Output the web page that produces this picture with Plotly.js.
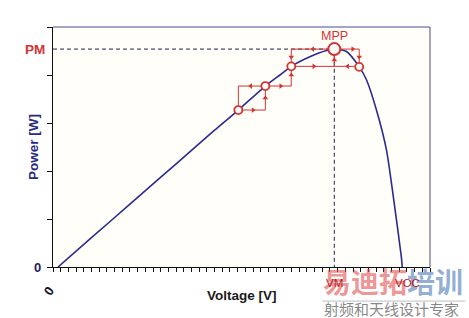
<!DOCTYPE html>
<html>
<head>
<meta charset="utf-8">
<script src="https://cdn.plot.ly/plotly-3.0.1.min.js"></script>
<style>
  html, body { margin: 0; padding: 0; background: #ffffff; }
  #chart { width: 469px; height: 318px; }
</style>
</head>
<body>
<div id="chart"></div>
<script>
// ---- P-V curve of the PV module (arbitrary units) ----
const voltage = [0.65, 5, 10, 13.9, 18, 21, 24.09, 27.6, 29.5, 30.97, 33.38, 35.55, 36.56, 38.14, 39.8, 40.74, 42.04, 43.34, 44.29, 45.29, 45.39];
const power   = [0, 0.61, 1.31, 1.855, 2.43, 2.85, 3.27, 3.77, 4.0, 4.18, 4.38, 4.51, 4.54, 4.49, 4.17, 3.9, 3.27, 2.44, 1.40, 0.19, 0];

// Maximum power point and open-circuit voltage
const VM = 36.56;
const PM = 4.54;
const VOC = 45.39;

// Perturb & observe operating points
const opV = [24.09, 27.6, 30.97, 39.8];
const opP = [3.27, 3.77, 4.18, 4.17];

// P&O path segments (null separates segments)
const pathV = [24.09, 27.6, 27.6, null, 24.09, 24.09, 27.6, null, 27.6, 30.97, 30.97, null, 30.97, 39.8, null, 30.97, 30.97, 39.8, 39.8, null, 36.56, 36.56];
const pathP = [3.27, 3.27, 3.77, null, 3.27, 3.77, 3.77, null, 3.77, 3.77, 4.18, null, 4.18, 4.18, null, 4.18, 4.54, 4.54, 4.17, null, 4.18, 4.54];

// Arrow heads along the path
const arrowRightV = [26.0, 29.6, 33.9, 38.96];
const arrowRightP = [3.27, 3.77, 4.18, 4.54];
const arrowLeftV  = [25.7, 33.77, 38.3];
const arrowLeftP  = [3.77, 4.54, 4.18];
const arrowUpV    = [27.6, 30.97, 36.56];
const arrowUpP    = [3.52, 4.0, 4.31];
const arrowDownV  = [30.97, 39.8];
const arrowDownP  = [4.375, 4.375];

// Axis labels
const yTickLabels = ['0', 'PM'];
const xTickLabels = ['0', 'VM', 'VOC'];

const RED = '#d23434';
const NAVY = '#2a2c90';
const BG = '#fffef9';
const FONT = 'Liberation Sans, Arial, sans-serif';

const traces = [
  { x: [0, VM, VM], y: [PM, PM, 0], mode: 'lines', line: { color: '#20204a', width: 1, dash: '4px,3px' }, hoverinfo: 'skip' },
  { x: voltage, y: power, mode: 'lines', line: { color: NAVY, width: 1.6, shape: 'spline', smoothing: 0.6 }, hoverinfo: 'skip' },
  { x: pathV, y: pathP, mode: 'lines', line: { color: RED, width: 1 }, connectgaps: false, hoverinfo: 'skip' },
  { x: arrowRightV, y: arrowRightP, mode: 'markers', marker: { symbol: 'triangle-right', size: 5, color: RED }, hoverinfo: 'skip' },
  { x: arrowLeftV, y: arrowLeftP, mode: 'markers', marker: { symbol: 'triangle-left', size: 5, color: RED }, hoverinfo: 'skip' },
  { x: arrowUpV, y: arrowUpP, mode: 'markers', marker: { symbol: 'triangle-up', size: 5, color: RED }, hoverinfo: 'skip' },
  { x: arrowDownV, y: arrowDownP, mode: 'markers', marker: { symbol: 'triangle-down', size: 5, color: RED }, hoverinfo: 'skip' },
  { x: opV, y: opP, mode: 'markers', marker: { symbol: 'circle', size: 8, color: BG, line: { color: RED, width: 1.8 } }, hoverinfo: 'skip' },
  { x: [VM], y: [PM], mode: 'markers', marker: { symbol: 'circle', size: 12, color: BG, line: { color: RED, width: 2 } }, hoverinfo: 'skip' }
];

const layout = {
  width: 469, height: 318,
  margin: { l: 53, r: 39, t: 27, b: 51 },
  paper_bgcolor: '#ffffff',
  plot_bgcolor: BG,
  showlegend: false,
  xaxis: {
    range: [0, 49], dtick: 1, tick0: 0,
    showgrid: false, zeroline: false, showticklabels: false,
    ticks: 'outside', ticklen: 4, tickcolor: '#111', tickwidth: 1,
    showline: true, linecolor: '#111', linewidth: 1.2, fixedrange: true
  },
  yaxis: {
    range: [0, 5], dtick: 1, tick0: 0,
    showgrid: false, zeroline: false, showticklabels: false,
    ticks: 'outside', ticklen: 5, tickcolor: '#111', tickwidth: 1,
    showline: true, linecolor: '#111', linewidth: 1.2, fixedrange: true
  },
  shapes: [
    { type: 'line', xref: 'paper', yref: 'paper', x0: 0, x1: 1, y0: 1, y1: 1, line: { color: '#4a4c92', width: 1 } },
    { type: 'line', xref: 'paper', yref: 'paper', x0: 1, x1: 1, y0: 0, y1: 1, line: { color: '#4a4c7a', width: 1 } },
    { type: 'line', xref: 'paper', yref: 'paper', x0: 0.714, x1: 1.093, y0: -0.142, y1: -0.142, line: { color: 'rgba(150,150,150,0.6)', width: 1 } }
  ],
  annotations: [
    // watermark (drawn first so the axis labels sit on top of it)
    { xref: 'paper', yref: 'paper', x: 0.903, y: -0.058, xanchor: 'center', yanchor: 'middle', showarrow: false,
      text: '<b><span style="color:rgba(228,80,80,0.62)">易迪拓</span><span style="color:rgba(105,145,195,0.72)">培训</span></b>',
      font: { family: 'Noto Sans CJK SC, sans-serif', size: 28 } },
    { xref: 'paper', yref: 'paper', x: 0.897, y: -0.174, xanchor: 'center', yanchor: 'middle', showarrow: false,
      text: '射频和天线设计专家', font: { family: 'Noto Sans CJK SC, sans-serif', size: 15, color: 'rgba(120,120,120,0.9)' } },
    // labels
    { xref: 'paper', yref: 'y', x: 0, y: PM, xanchor: 'right', xshift: -6, yanchor: 'middle', text: '<b>' + yTickLabels[1] + '</b>', showarrow: false, font: { family: FONT, size: 13.5, color: RED } },
    { xref: 'paper', yref: 'y', x: 0, y: 0, xanchor: 'right', xshift: -10, yanchor: 'middle', text: '<b>' + yTickLabels[0] + '</b>', showarrow: false, font: { family: FONT, size: 13, color: '#1c1c5e' } },
    { xref: 'paper', yref: 'paper', x: -0.053, y: 0.5, xanchor: 'center', yanchor: 'middle', textangle: -90, text: '<b>Power [W]</b>', showarrow: false, font: { family: FONT, size: 13.5, color: '#2a2a7e' } },
    { xref: 'paper', yref: 'paper', x: -0.013, y: -0.1, xanchor: 'center', yanchor: 'middle', textangle: -55, text: '<b>' + xTickLabels[0] + '</b>', showarrow: false, font: { family: FONT, size: 13, color: '#15152a' } },
    { xref: 'paper', yref: 'paper', x: 0.5, y: -0.117, xanchor: 'center', yanchor: 'middle', text: '<b>Voltage [V]</b>', showarrow: false, font: { family: FONT, size: 13.5, color: '#1a1a1a' } },
    { xref: 'x', yref: 'paper', x: VM, y: 0.9625, xanchor: 'center', yanchor: 'middle', text: 'MPP', showarrow: false, font: { family: FONT, size: 12.5, color: RED } },
    { xref: 'x', yref: 'paper', x: VM, y: -0.067, xanchor: 'center', yanchor: 'middle', text: xTickLabels[1], showarrow: false, font: { family: FONT, size: 11.5, color: '#b02020' } },
    { xref: 'x', yref: 'paper', x: VOC, xshift: 5, y: -0.067, xanchor: 'center', yanchor: 'middle', text: xTickLabels[2], showarrow: false, font: { family: FONT, size: 11.5, color: '#b02020' } }
  ]
};

Plotly.newPlot('chart', traces, layout, { staticPlot: true, displayModeBar: false });
</script>
</body>
</html>
